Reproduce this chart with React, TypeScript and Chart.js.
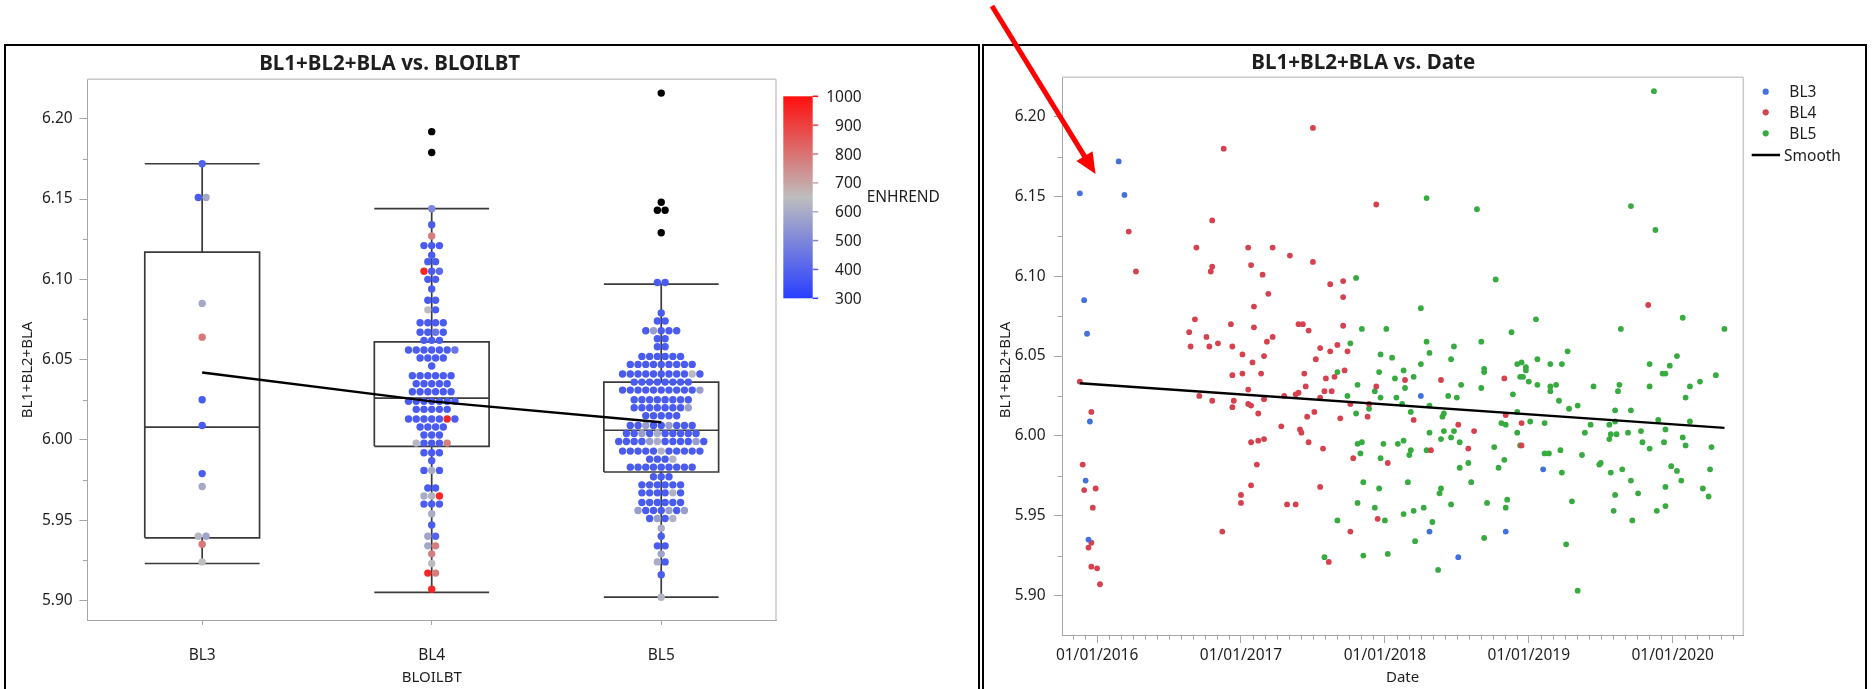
import { useEffect, useRef } from "react";
import { Chart, registerables } from "chart.js";

Chart.register(...registerables);

// ---------------- data ----------------
const groupNames = ["BL3", "BL4", "BL5"];
const yTickValues = [5.9, 5.95, 6.0, 6.05, 6.1, 6.15, 6.2];
const enhrendTicks = [300, 400, 500, 600, 700, 800, 900, 1000];
const yearTicks = [2016, 2017, 2018, 2019, 2020];

// left panel: box plot summaries per group (BL3, BL4, BL5)
const whiskerLow = [5.923, 5.905, 5.902];
const quartile1 = [5.939, 5.996, 5.98];
const medians = [6.008, 6.026, 6.006];
const quartile3 = [6.117, 6.061, 6.036];
const whiskerHigh = [6.172, 6.144, 6.097];
const groupMeans = [6.042, 6.024, 6.011];

// left panel: beeswarm rows (value of the row, ENHREND of each dot in the row)
const bl3RowValues = [6.172, 6.151, 6.085, 6.064, 6.025, 6.009, 5.979, 5.971, 5.94, 5.935, 5.924];
const bl3RowEnhrend = [[400], [380, 590], [590], [790], [380], [380], [380], [590], [630, 580], [790], [650]];

const bl4RowValues = [
  6.144, 6.134, 6.127, 6.121, 6.115, 6.111, 6.105, 6.1, 6.094, 6.087, 6.081, 6.073, 6.067, 6.062,
  6.056, 6.051, 6.046, 6.04, 6.035, 6.03, 6.024, 6.019, 6.013, 6.008, 6.003, 5.998, 5.992, 5.987,
  5.981, 5.97, 5.965, 5.96, 5.954, 5.947, 5.94, 5.934, 5.929, 5.923, 5.917, 5.907,
];
const bl4RowEnhrend = [
  [500], [380], [780], [380, 380, 380], [380], [380, 380], [950, 380, 420], [380, 380], [380],
  [380, 380], [640, 380], [380, 380, 380, 380], [380, 380, 450, 380], [380, 380, 380],
  [380, 380, 380, 380, 380, 380, 450], [380, 380, 380, 380], [380],
  [380, 380, 380, 380, 380, 380], [380, 380, 380, 380, 380], [380, 380, 380, 380, 380, 380],
  [380, 380, 380, 380, 380, 380, 380], [380, 380, 380, 380, 380],
  [380, 380, 380, 380, 380, 950, 380], [380, 380, 380, 380], [380, 380, 380],
  [630, 380, 380, 380, 780], [380, 380, 380], [380], [380, 600, 380], [380, 380],
  [600, 620, 950], [380, 380, 380], [600], [380], [580, 400], [590, 780], [780], [640],
  [950, 780], [950],
];
const bl4Outliers = [6.192, 6.179];

const bl5RowValues = [
  6.098, 6.079, 6.074, 6.068, 6.063, 6.058, 6.052, 6.047, 6.041, 6.036, 6.031, 6.025, 6.02,
  6.015, 6.009, 6.004, 5.999, 5.993, 5.988, 5.983, 5.977, 5.972, 5.967, 5.961, 5.956, 5.951,
  5.945, 5.94, 5.934, 5.929, 5.924, 5.916, 5.902,
];
const bl5RowEnhrend = [
  [380, 380], [380], [380, 380], [380, 560, 380, 380, 380], [380, 380], [380, 380],
  [380, 380, 380, 380, 380, 380],
  [380, 380, 380, 380, 380, 380, 380, 380, 380],
  [380, 380, 380, 380, 380, 380, 380, 380, 380, 640, 380],
  [380, 380, 380, 380, 380, 380, 380, 380],
  [380, 380, 380, 380, 380, 380, 380, 380, 380, 380, 560],
  [380, 380, 380, 380, 380, 380, 380, 380],
  [380, 380, 380, 380, 380, 380, 380, 560],
  [380, 380, 380, 380, 380],
  [380, 380, 560, 380, 380, 560, 380, 380, 380],
  [380, 380, 560, 380, 600, 380, 380, 380, 380, 380],
  [380, 380, 380, 380, 560, 600, 380, 380, 380, 380, 560, 380],
  [380, 380, 380, 380, 380, 620, 380, 380, 380, 380, 380],
  [380, 380, 380, 620],
  [380, 380, 380, 380, 380, 380, 380, 380, 380],
  [380, 380, 380],
  [380, 380, 380, 380, 380, 380],
  [380, 380, 380, 380, 620, 380],
  [380, 380, 380, 380, 380, 380],
  [560, 380, 380, 380, 560, 380, 560],
  [380, 560, 380, 620],
  [600], [380], [380, 380], [580], [600, 380], [380], [620],
];
const bl5Outliers = [6.216, 6.148, 6.143, 6.143, 6.129];

// right panel: date (decimal year) and value per row
const bl3Dates = [2015.88, 2015.91, 2015.93, 2015.95, 2015.92, 2015.94, 2016.15, 2016.19, 2018.25, 2019.1, 2018.31, 2018.84, 2018.51];
const bl3Values = [6.152, 6.085, 6.064, 6.009, 5.972, 5.935, 6.172, 6.151, 6.025, 5.979, 5.94, 5.94, 5.924];

const bl4Dates = [
  2017.5, 2016.88, 2017.94, 2016.8, 2016.22, 2016.69, 2017.05, 2017.22, 2017.34, 2017.5,
  2017.07, 2016.8, 2016.79, 2016.27, 2017.15, 2017.71, 2017.62, 2017.19, 2017.71, 2017.09,
  2016.68, 2016.93, 2017.09, 2017.4, 2017.43, 2017.47, 2017.71, 2016.64, 2016.76, 2017.22,
  2016.84, 2016.65, 2016.78, 2017.18, 2016.94, 2017.67, 2017.55, 2017.74, 2017.62, 2017.01,
  2017.16, 2017.52, 2017.08, 2017.72, 2017.44, 2017.01, 2017.14, 2016.94, 2017.59, 2017.65,
  2015.88, 2017.94, 2017.45, 2017.05, 2017.58, 2017.63, 2016.71, 2017.3, 2017.38, 2017.4,
  2017.55, 2017.16, 2016.8, 2016.95, 2017.05, 2017.07, 2016.94, 2017.76, 2017.89, 2017.12,
  2015.96, 2017.51, 2017.46, 2017.69, 2017.88, 2017.28, 2017.41, 2017.42, 2017.16, 2017.12,
  2017.07, 2017.47, 2017.57, 2017.78, 2018.02, 2015.9, 2017.11, 2017.07, 2015.99, 2015.91,
  2017.55, 2017.0, 2015.97, 2017.0, 2017.32, 2017.38, 2017.95, 2016.87, 2017.76, 2015.96,
  2015.94, 2017.61, 2015.96, 2016.0, 2016.02, 2019.83, 2018.14, 2018.39, 2018.83, 2018.2,
  2018.51, 2018.62, 2018.84, 2018.95, 2018.32, 2018.58, 2018.95,
];
const bl4Values = [
  6.193, 6.18, 6.145, 6.135, 6.128, 6.118, 6.118, 6.118, 6.113, 6.109,
  6.107, 6.106, 6.103, 6.103, 6.101, 6.097, 6.095, 6.089, 6.087, 6.081,
  6.073, 6.07, 6.068, 6.07, 6.07, 6.066, 6.069, 6.065, 6.062, 6.062,
  6.058, 6.056, 6.056, 6.059, 6.056, 6.057, 6.055, 6.053, 6.053, 6.051,
  6.05, 6.048, 6.046, 6.041, 6.039, 6.039, 6.039, 6.038, 6.036, 6.037,
  6.034, 6.031, 6.031, 6.029, 6.028, 6.028, 6.025, 6.025, 6.026, 6.027,
  6.024, 6.023, 6.022, 6.022, 6.02, 6.019, 6.018, 6.02, 6.02, 6.014,
  6.015, 6.015, 6.012, 6.011, 6.012, 6.006, 6.004, 6.002, 5.998, 5.997,
  5.996, 5.996, 5.992, 5.986, 5.983, 5.982, 5.982, 5.969, 5.967, 5.966,
  5.968, 5.963, 5.955, 5.958, 5.957, 5.957, 5.948, 5.94, 5.94, 5.933,
  5.93, 5.921, 5.918, 5.917, 5.907, 6.082, 6.035, 6.035, 6.036, 6.01,
  6.007, 6.003, 6.013, 6.008, 5.991, 5.992, 5.994,
];

const bl5Dates = [
  2017.8, 2017.84, 2018.01, 2017.76, 2017.97, 2018.05, 2017.67, 2017.96, 2018.07, 2017.81,
  2017.93, 2017.74, 2017.97, 2018.08, 2017.8, 2017.89, 2017.81, 2017.84, 2017.99, 2018.09,
  2017.83, 2017.97, 2017.85, 2017.96, 2017.81, 2017.93, 2017.67, 2018.0, 2017.58, 2017.85,
  2018.02,
  2019.87, 2018.29, 2018.64, 2019.71, 2019.88, 2018.77, 2018.25, 2019.05, 2020.07, 2020.36,
  2019.64, 2018.88, 2018.29, 2018.67, 2018.48, 2018.31, 2019.27, 2020.03, 2018.46, 2019.06,
  2018.25, 2018.13, 2018.69, 2018.69, 2018.92, 2018.95, 2018.98, 2018.98, 2019.15, 2019.23,
  2019.84, 2019.98, 2019.93, 2019.95, 2018.2, 2018.94, 2018.96, 2020.3, 2020.19, 2019.0,
  2018.14, 2018.53, 2018.67, 2019.06, 2019.15, 2019.19, 2019.15, 2019.45, 2019.63, 2019.62,
  2019.84, 2020.12, 2020.09, 2018.44, 2018.5, 2018.89, 2019.21, 2018.12, 2018.31, 2019.28,
  2019.34, 2019.6, 2019.71, 2018.18, 2018.41, 2018.4, 2018.92, 2019.9, 2020.12, 2019.01,
  2018.81, 2018.84, 2019.11, 2019.43, 2019.56, 2019.6, 2019.95, 2019.78, 2019.69, 2019.39,
  2018.92, 2018.31, 2018.41, 2018.48, 2019.57, 2019.61, 2019.56, 2020.07, 2018.39, 2018.46,
  2018.13, 2018.52, 2018.18, 2018.17, 2018.29, 2018.76, 2018.94, 2019.22, 2019.11, 2019.14,
  2019.37, 2019.79, 2019.84, 2019.94, 2020.09, 2020.27, 2018.83, 2018.58, 2018.52, 2018.79,
  2019.23, 2019.49, 2019.5, 2019.57, 2019.65, 2019.71, 2019.99, 2020.03, 2020.06, 2020.26,
  2018.16, 2018.6, 2018.39, 2018.38, 2019.6, 2019.76, 2019.95, 2020.21, 2020.25, 2019.3,
  2018.71, 2018.85, 2018.46, 2018.84, 2019.59, 2019.89, 2019.95, 2018.13, 2018.2, 2018.27,
  2018.33, 2019.72, 2018.69, 2018.21, 2019.26, 2018.37, 2019.34,
];
const bl5Values = [
  6.099, 6.067, 6.067, 6.058, 6.051, 6.049, 6.04, 6.04, 6.036, 6.032,
  6.028, 6.025, 6.024, 6.024, 6.014, 6.017, 5.995, 5.996, 5.995, 5.995,
  5.989, 5.986, 5.971, 5.967, 5.958, 5.955, 5.947, 5.947, 5.924, 5.925,
  5.926,
  6.216, 6.149, 6.142, 6.144, 6.129, 6.098, 6.08, 6.073, 6.074, 6.067,
  6.067, 6.065, 6.059, 6.059, 6.056, 6.052, 6.053, 6.05, 6.048, 6.048,
  6.045, 6.041, 6.042, 6.04, 6.045, 6.046, 6.043, 6.041, 6.045, 6.045,
  6.045, 6.044, 6.039, 6.039, 6.037, 6.037, 6.037, 6.038, 6.034, 6.034,
  6.03, 6.032, 6.03, 6.032, 6.031, 6.032, 6.028, 6.031, 6.032, 6.028,
  6.031, 6.031, 6.024, 6.025, 6.024, 6.026, 6.022, 6.02, 6.019, 6.017,
  6.019, 6.016, 6.016, 6.015, 6.014, 6.012, 6.015, 6.01, 6.009, 6.009,
  6.008, 6.007, 6.008, 6.007, 6.007, 6.009, 6.004, 6.003, 6.002, 6.002,
  6.002, 6.002, 6.003, 6.003, 6.001, 6.001, 5.998, 5.999, 5.998, 5.999,
  5.997, 5.996, 5.991, 5.988, 5.991, 5.993, 5.994, 5.991, 5.989, 5.989,
  5.988, 5.996, 5.992, 5.996, 5.994, 5.993, 5.985, 5.983, 5.98, 5.98,
  5.977, 5.982, 5.983, 5.977, 5.979, 5.972, 5.981, 5.978, 5.972, 5.979,
  5.971, 5.971, 5.967, 5.964, 5.963, 5.964, 5.968, 5.967, 5.962, 5.959,
  5.958, 5.96, 5.957, 5.955, 5.953, 5.953, 5.956, 5.951, 5.953, 5.955,
  5.946, 5.947, 5.936, 5.934, 5.932, 5.916, 5.903,
];

const smoothDates = [2015.88, 2020.36];
const smoothValues = [6.033, 6.005];

// ---------------- styles ----------------
const FONT = '"Noto Sans", "DejaVu Sans", sans-serif';
const TEXT = "#1e1e1e";
const AXIS = "#a6a6a6";
const FRAME = "#c8c8c8";
const BOX = "#3a3a3a";
const SERIES_COLORS = ["#4270dc", "#d5414f", "#37ab40"];
const ENH_LOW = [40, 62, 255];
const ENH_MID = [190, 190, 190];
const ENH_HIGH = [255, 14, 14];
const SWARM_STEP = 0.0337;
const BOX_HALF = 0.25;

Chart.defaults.font.family = FONT;

function mix(a: number[], b: number[], u: number) {
  return a.map((c, i) => Math.round(c + (b[i] - c) * u));
}
function enhColor(v: number) {
  const t = (Math.min(1000, Math.max(300, v)) - 300) / 700;
  const c = t <= 0.5 ? mix(ENH_LOW, ENH_MID, t / 0.5) : mix(ENH_MID, ENH_HIGH, (t - 0.5) / 0.5);
  return `rgb(${c[0]},${c[1]},${c[2]})`;
}

function drawText(ctx: any, s: string, x: number, yc: number, size: number, o: any = {}) {
  ctx.font = `${o.bold ? "bold " : ""}${size}px ${FONT}`;
  ctx.textAlign = o.align || "center";
  ctx.textBaseline = "alphabetic";
  ctx.fillStyle = o.color || TEXT;
  const base = yc + 0.36 * size;
  if (o.maxWidth) ctx.fillText(s, x, base, o.maxWidth);
  else ctx.fillText(s, x, base);
}
function drawRotated(ctx: any, s: string, x: number, yc: number, size: number) {
  ctx.save();
  ctx.translate(x, yc);
  ctx.rotate(-Math.PI / 2);
  drawText(ctx, s, 0, 0, size);
  ctx.restore();
}
function seg(ctx: any, x1: number, y1: number, x2: number, y2: number) {
  ctx.beginPath();
  ctx.moveTo(x1, y1);
  ctx.lineTo(x2, y2);
  ctx.stroke();
}
function frameAndMinorY(ctx: any, a: any, y: any) {
  ctx.strokeStyle = FRAME;
  ctx.lineWidth = 1.5;
  seg(ctx, a.left, a.top, a.right, a.top);
  seg(ctx, a.right, a.top, a.right, a.bottom);
  ctx.strokeStyle = AXIS;
  ctx.lineWidth = 1;
  for (let k = Math.ceil(y.min / 0.025); k * 0.025 <= y.max + 1e-9; k++) {
    if (k % 2 === 0) continue;
    const py = Math.round(y.getPixelForValue(k * 0.025)) + 0.5;
    seg(ctx, a.left - 4.5, py, a.left, py);
  }
}

// ---------------- left chart ----------------
function swarmDataset(gi: number, values: number[], enh: number[][]) {
  const pts: any[] = [];
  const cols: string[] = [];
  values.forEach((v, r) => {
    const row = enh[r];
    row.forEach((e, k) => {
      pts.push({ x: gi + (k - (row.length - 1) / 2) * SWARM_STEP, y: v });
      cols.push(enhColor(e));
    });
  });
  return {
    data: pts,
    pointBackgroundColor: cols,
    pointBorderWidth: 0,
    pointRadius: 3.7,
    showLine: false,
    order: 2,
  };
}
function outlierDataset(gi: number, values: number[]) {
  const counts = new Map<number, number>();
  values.forEach((v) => counts.set(v, (counts.get(v) || 0) + 1));
  const pts: any[] = [];
  counts.forEach((n, v) => {
    for (let k = 0; k < n; k++) pts.push({ x: gi + (k - (n - 1) / 2) * SWARM_STEP, y: v });
  });
  return { data: pts, pointBackgroundColor: "#000", pointBorderWidth: 0, pointRadius: 3.7, order: 2 };
}
function boxDatasets(gi: number) {
  const l = gi - BOX_HALF;
  const r = gi + BOX_HALF;
  const segs = [
    [
      { x: l, y: quartile1[gi] }, { x: r, y: quartile1[gi] }, { x: r, y: quartile3[gi] },
      { x: l, y: quartile3[gi] }, { x: l, y: quartile1[gi] },
    ],
    [{ x: l, y: medians[gi] }, { x: r, y: medians[gi] }],
    [{ x: gi, y: quartile3[gi] }, { x: gi, y: whiskerHigh[gi] }],
    [{ x: gi, y: quartile1[gi] }, { x: gi, y: whiskerLow[gi] }],
    [{ x: l, y: whiskerHigh[gi] }, { x: r, y: whiskerHigh[gi] }],
    [{ x: l, y: whiskerLow[gi] }, { x: r, y: whiskerLow[gi] }],
  ];
  return segs.map((data) => ({
    data,
    showLine: true,
    pointRadius: 0,
    borderColor: BOX,
    borderWidth: 1.7,
    order: 3,
  }));
}

const leftDecor = {
  id: "leftDecor",
  afterDraw(chart: any) {
    const { ctx, chartArea: a, scales } = chart;
    ctx.save();
    frameAndMinorY(ctx, a, scales.y);
    drawText(ctx, "BL1+BL2+BLA vs. BLOILBT", 389.7, 62.5, 21, { bold: true, maxWidth: 261 });
    drawRotated(ctx, "BL1+BL2+BLA", 26.2, 370, 15);
    drawText(ctx, "BLOILBT", 431.7, 677, 15);
    // colour legend
    const barL = 783.3, barR = 812.7, barT = 96.3, barB = 298.3;
    const g = ctx.createLinearGradient(0, barB, 0, barT);
    g.addColorStop(0, enhColor(300));
    g.addColorStop(0.5, enhColor(650));
    g.addColorStop(1, enhColor(1000));
    ctx.fillStyle = g;
    ctx.fillRect(barL, barT, barR - barL, barB - barT);
    enhrendTicks.forEach((v) => {
      const py = barB - ((v - 300) / 700) * (barB - barT);
      ctx.strokeStyle = enhColor(v);
      ctx.lineWidth = 1.5;
      seg(ctx, barR, py, barR + 5.5, py);
      drawText(ctx, String(v), 861.7, py, 15.5, { align: "right" });
    });
    drawText(ctx, "ENHREND", 866.7, 196.7, 15.5, { align: "left" });
    ctx.restore();
  },
};

function leftConfig(): any {
  const datasets: any[] = [
    {
      data: groupMeans.map((m, i) => ({ x: i, y: m })),
      showLine: true,
      pointRadius: 0,
      borderColor: "#000",
      borderWidth: 2.4,
      order: 0,
    },
    swarmDataset(0, bl3RowValues, bl3RowEnhrend),
    swarmDataset(1, bl4RowValues, bl4RowEnhrend),
    swarmDataset(2, bl5RowValues, bl5RowEnhrend),
    outlierDataset(1, bl4Outliers),
    outlierDataset(2, bl5Outliers),
    ...boxDatasets(0),
    ...boxDatasets(1),
    ...boxDatasets(2),
  ];
  return {
    type: "scatter",
    data: { datasets },
    options: {
      responsive: false,
      animation: false,
      devicePixelRatio: 1,
      layout: { padding: { left: 0, right: 204, top: 79.3, bottom: 0 } },
      plugins: { legend: { display: false }, tooltip: { enabled: false }, title: { display: false } },
      scales: {
        x: {
          type: "linear",
          min: -0.5,
          max: 2.5,
          afterBuildTicks: (s: any) => {
            s.ticks = groupNames.map((_, i) => ({ value: i }));
          },
          afterFit: (s: any) => {
            s.height = 69;
          },
          ticks: {
            callback: (v: any) => groupNames[Math.round(v)],
            autoSkip: false,
            maxRotation: 0,
            padding: 21,
            color: TEXT,
            font: { size: 15.5 },
          },
          grid: { display: true, drawOnChartArea: false, tickLength: 5, color: AXIS },
          border: { color: AXIS, width: 1 },
        },
        y: {
          type: "linear",
          min: 5.8878,
          max: 6.2246,
          afterBuildTicks: (s: any) => {
            s.ticks = yTickValues.map((v) => ({ value: v }));
          },
          afterFit: (s: any) => {
            s.width = 87.4;
          },
          ticks: {
            callback: (v: any) => Number(v).toFixed(2),
            padding: 6.7,
            color: TEXT,
            font: { size: 15.5 },
          },
          grid: { display: true, drawOnChartArea: false, tickLength: 8, color: AXIS },
          border: { color: AXIS, width: 1 },
        },
      },
    },
    plugins: [leftDecor],
  };
}

// ---------------- right chart ----------------
const RIGHT_OFFSET = 981;

const rightDecor = {
  id: "rightDecor",
  afterDraw(chart: any) {
    const { ctx, chartArea: a, scales } = chart;
    ctx.save();
    frameAndMinorY(ctx, a, scales.y);
    const x = scales.x;
    ctx.strokeStyle = AXIS;
    ctx.lineWidth = 1;
    for (let yr = Math.floor(x.min); yr <= Math.ceil(x.max); yr++) {
      for (let m = 1; m < 12; m++) {
        const v = yr + m / 12;
        if (v < x.min || v > x.max) continue;
        const px = Math.round(x.getPixelForValue(v)) + 0.5;
        seg(ctx, px, a.bottom, px, a.bottom + 4.5);
      }
    }
    const o = RIGHT_OFFSET;
    drawText(ctx, "BL1+BL2+BLA vs. Date", 1363.3 - o, 61.8, 21, { bold: true, maxWidth: 224 });
    drawRotated(ctx, "BL1+BL2+BLA", 1004.2 - o, 370, 15);
    drawText(ctx, "Date", 1402.6 - o, 677, 15);
    // legend
    const rows = [91.7, 112.3, 133.3];
    groupNames.forEach((name, i) => {
      ctx.fillStyle = SERIES_COLORS[i];
      ctx.beginPath();
      ctx.arc(1765.7 - o, rows[i], 3.1, 0, Math.PI * 2);
      ctx.fill();
      drawText(ctx, name, 1789.3 - o, rows[i], 15.5, { align: "left" });
    });
    ctx.strokeStyle = "#000";
    ctx.lineWidth = 2.5;
    seg(ctx, 1751.7 - o, 155, 1780 - o, 155);
    drawText(ctx, "Smooth", 1784 - o, 155, 15.5, { align: "left" });
    ctx.restore();
  },
};

function series(dates: number[], values: number[], color: string, order: number) {
  return {
    data: dates.map((d, i) => ({ x: d, y: values[i] })),
    pointBackgroundColor: color,
    pointBorderWidth: 0,
    pointRadius: 2.9,
    order,
  };
}

function rightConfig(): any {
  return {
    type: "scatter",
    data: {
      datasets: [
        {
          data: smoothDates.map((d, i) => ({ x: d, y: smoothValues[i] })),
          showLine: true,
          pointRadius: 0,
          borderColor: "#000",
          borderWidth: 2.5,
          order: 0,
        },
        series(bl3Dates, bl3Values, SERIES_COLORS[0], 1),
        series(bl4Dates, bl4Values, SERIES_COLORS[1], 2),
        series(bl5Dates, bl5Values, SERIES_COLORS[2], 3),
      ],
    },
    options: {
      responsive: false,
      animation: false,
      devicePixelRatio: 1,
      layout: { padding: { left: 0, right: 132.7, top: 77.3, bottom: 0 } },
      plugins: { legend: { display: false }, tooltip: { enabled: false }, title: { display: false } },
      scales: {
        x: {
          type: "linear",
          min: 2015.756,
          max: 2020.491,
          afterBuildTicks: (s: any) => {
            s.ticks = yearTicks.map((v) => ({ value: v }));
          },
          afterFit: (s: any) => {
            s.height = 54;
          },
          ticks: {
            callback: (v: any) => "01/01/" + Math.round(v),
            autoSkip: false,
            maxRotation: 0,
            padding: 3,
            color: TEXT,
            font: { size: 15.5 },
          },
          grid: { display: true, drawOnChartArea: false, tickLength: 8, color: AXIS },
          border: { color: AXIS, width: 1 },
        },
        y: {
          type: "linear",
          min: 5.8752,
          max: 6.2247,
          afterBuildTicks: (s: any) => {
            s.ticks = yTickValues.map((v) => ({ value: v }));
          },
          afterFit: (s: any) => {
            s.width = 81;
          },
          ticks: {
            callback: (v: any) => Number(v).toFixed(2),
            padding: 8.5,
            color: TEXT,
            font: { size: 15.5 },
          },
          grid: { display: true, drawOnChartArea: false, tickLength: 8, color: AXIS },
          border: { color: AXIS, width: 1 },
        },
      },
    },
    plugins: [rightDecor],
  };
}

// ---------------- component ----------------
export default function App() {
  const leftRef = useRef<HTMLCanvasElement>(null);
  const rightRef = useRef<HTMLCanvasElement>(null);

  useEffect(() => {
    const left = new Chart(leftRef.current as HTMLCanvasElement, leftConfig());
    const right = new Chart(rightRef.current as HTMLCanvasElement, rightConfig());
    return () => {
      left.destroy();
      right.destroy();
    };
  }, []);

  // red annotation arrow
  const tip = [1095.5, 174];
  const start = [992, 6];
  const dx = tip[0] - start[0];
  const dy = tip[1] - start[1];
  const len = Math.hypot(dx, dy);
  const ux = dx / len;
  const uy = dy / len;
  const headLen = 21;
  const headHalf = 9.5;
  const bx = tip[0] - ux * headLen;
  const by = tip[1] - uy * headLen;
  const head = `${tip[0]},${tip[1]} ${bx - uy * headHalf},${by + ux * headHalf} ${bx + uy * headHalf},${by - ux * headHalf}`;

  return (
    <div
      style={{
        position: "absolute",
        left: 0,
        top: 0,
        width: 1876,
        height: 689,
        background: "#fff",
        overflow: "hidden",
      }}
    >
      <div
        style={{
          position: "absolute",
          left: 4,
          top: 44,
          width: 976,
          height: 700,
          border: "2px solid #000",
          boxSizing: "border-box",
        }}
      />
      <div
        style={{
          position: "absolute",
          left: 982,
          top: 44,
          width: 885,
          height: 700,
          border: "2px solid #000",
          boxSizing: "border-box",
        }}
      />
      <canvas
        ref={leftRef}
        width={980}
        height={689}
        style={{ position: "absolute", left: 0, top: 0, width: 980, height: 689 }}
      />
      <canvas
        ref={rightRef}
        width={895}
        height={689}
        style={{ position: "absolute", left: RIGHT_OFFSET, top: 0, width: 895, height: 689 }}
      />
      <svg
        width={1876}
        height={689}
        style={{ position: "absolute", left: 0, top: 0, pointerEvents: "none" }}
      >
        <line x1={start[0]} y1={start[1]} x2={bx + ux * 2} y2={by + uy * 2} stroke="#ff0000" strokeWidth={5} />
        <polygon points={head} fill="#ff0000" />
      </svg>
    </div>
  );
}
